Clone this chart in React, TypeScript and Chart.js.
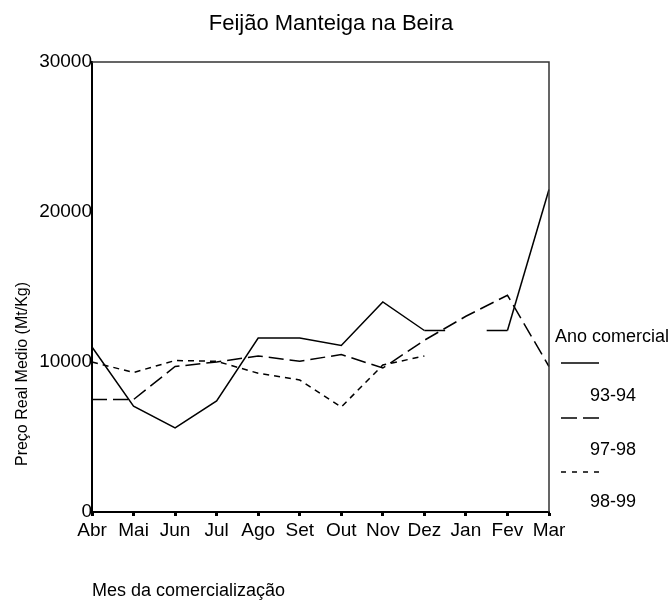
import React, { useEffect, useRef } from 'react';
import { Chart, registerables } from 'chart.js';

Chart.register(...registerables);

// ---- data ----
const months = ['Abr', 'Mai', 'Jun', 'Jul', 'Ago', 'Set', 'Out', 'Nov', 'Dez', 'Jan', 'Fev', 'Mar'];
const series9394 = [11000, 7050, 5600, 7400, 11600, 11600, 11100, 14000, 12100, null, 12100, 21500];
const series9798 = [7500, 7500, 9700, 10000, 10400, 10050, 10500, 9600, 11450, 13050, 14450, 9700];
const series9899 = [10000, 9300, 10100, 10050, 9250, 8800, 7000, 9800, 10400, null, null, null];
const yTickValues = [0, 10000, 20000, 30000];
const seriesNames = ['93-94', '97-98', '98-99'];
const chartTitle = 'Feijão Manteiga na Beira';
const xTitle = 'Mes da comercialização';
const yTitle = 'Preço Real Medio (Mt/Kg)';
const legendTitle = 'Ano comercial';

const FONT = '"Liberation Sans", Arial, Helvetica, sans-serif';

// SPSS-style gap: half-length stubs on either side of a missing value
function gapDash(ctx: any): number[] {
  const meta = ctx.chart.getDatasetMeta(ctx.datasetIndex);
  const pts = meta.data;
  if (!ctx.p0.skip && !ctx.p1.skip) return [];
  // find valid neighbours around the gap
  let a = ctx.p0.skip ? ctx.p0DataIndex : ctx.p1DataIndex;
  let lo = a - 1;
  while (lo >= 0 && pts[lo].skip) lo--;
  let hi = a + 1;
  while (hi < pts.length && pts[hi].skip) hi++;
  if (lo < 0 || hi >= pts.length) return [];
  const p0 = pts[lo];
  const p1 = pts[hi];
  const d = Math.hypot(p1.x - p0.x, p1.y - p0.y);
  return [d / 4, d / 2];
}

export default function App() {
  const ref = useRef<HTMLCanvasElement>(null);

  useEffect(() => {
    const canvas = ref.current;
    if (!canvas) return;

    const chartDashes: number[][] = [[], [15, 6], [6, 5]];
    const legendDashes: number[][] = [[], [16, 6], [5, 6]];

    const textPlugin = {
      id: 'customTexts',
      afterDraw(chart: any) {
        const ctx = chart.ctx as CanvasRenderingContext2D;
        const a = chart.chartArea;
        ctx.save();
        // frame (top + right)
        ctx.strokeStyle = '#333';
        ctx.lineWidth = 1.5;
        ctx.setLineDash([]);
        ctx.beginPath();
        ctx.moveTo(a.left, a.top);
        ctx.lineTo(a.right, a.top);
        ctx.lineTo(a.right, a.bottom);
        ctx.stroke();

        ctx.fillStyle = '#000';
        // title
        ctx.font = `22px ${FONT}`;
        ctx.textAlign = 'center';
        ctx.textBaseline = 'alphabetic';
        ctx.fillText(chartTitle, 331, 30);

        // x title
        ctx.font = `18px ${FONT}`;
        ctx.textAlign = 'left';
        ctx.fillText(xTitle, 92, 596);

        // y title
        ctx.save();
        ctx.translate(27, 374);
        ctx.rotate(-Math.PI / 2);
        ctx.font = `16px ${FONT}`;
        ctx.textAlign = 'center';
        ctx.fillText(yTitle, 0, 0);
        ctx.restore();

        // legend
        ctx.font = `18px ${FONT}`;
        ctx.textAlign = 'left';
        ctx.textBaseline = 'middle';
        ctx.fillText(legendTitle, 555, 337);
        const lineYs = [363, 418, 472];
        const textYs = [396, 450, 502];
        ctx.strokeStyle = '#000';
        ctx.lineWidth = 1.5;
        seriesNames.forEach((name, i) => {
          ctx.setLineDash(legendDashes[i]);
          ctx.beginPath();
          ctx.moveTo(561, lineYs[i]);
          ctx.lineTo(599, lineYs[i]);
          ctx.stroke();
          ctx.fillText(name, 590, textYs[i]);
        });
        ctx.restore();
      },
    };

    const chart = new Chart(canvas, {
      type: 'line',
      data: {
        labels: months,
        datasets: [
          {
            label: seriesNames[0],
            data: series9394,
            borderColor: '#000',
            borderWidth: 1.5,
            borderDash: chartDashes[0],
            pointRadius: 0,
            tension: 0,
            spanGaps: true,
            segment: { borderDash: gapDash },
          } as any,
          {
            label: seriesNames[1],
            data: series9798,
            borderColor: '#000',
            borderWidth: 1.5,
            borderDash: chartDashes[1],
            pointRadius: 0,
            tension: 0,
          },
          {
            label: seriesNames[2],
            data: series9899,
            borderColor: '#000',
            borderWidth: 1.5,
            borderDash: chartDashes[2],
            pointRadius: 0,
            tension: 0,
          },
        ],
      },
      options: {
        responsive: false,
        maintainAspectRatio: false,
        animation: false,
        devicePixelRatio: 1,
        layout: { padding: { left: 0, top: 62, right: 120, bottom: 0 } },
        plugins: {
          legend: { display: false },
          title: { display: false },
          tooltip: { enabled: false },
        },
        scales: {
          x: {
            type: 'category',
            offset: false,
            grid: {
              display: true,
              drawOnChartArea: false,
              drawTicks: true,
              tickLength: 4,
              tickWidth: 3,
              tickColor: '#000',
            },
            border: { display: true, color: '#000', width: 2 },
            ticks: {
              color: '#000',
              font: { family: FONT, size: 19 },
              padding: 3,
              maxRotation: 0,
              autoSkip: false,
            },
            afterFit: (scale: any) => {
              scale.height = 90;
            },
          },
          y: {
            min: 0,
            max: 30000,
            grid: { display: false, drawTicks: false },
            border: { display: true, color: '#000', width: 2 },
            ticks: {
              color: '#000',
              font: { family: FONT, size: 19 },
              padding: 0,
              callback: (v: any) => String(v),
            },
            afterBuildTicks: (scale: any) => {
              scale.ticks = yTickValues.map((v) => ({ value: v }));
            },
            afterFit: (scale: any) => {
              scale.width = 92;
            },
          },
        },
      },
      plugins: [textPlugin],
    } as any);

    return () => chart.destroy();
  }, []);

  return (
    <div style={{ position: 'fixed', left: 0, top: 0, width: 669, height: 602, background: '#fff' }}>
      <canvas ref={ref} width={669} height={602} style={{ width: 669, height: 602, display: 'block' }} />
    </div>
  );
}
